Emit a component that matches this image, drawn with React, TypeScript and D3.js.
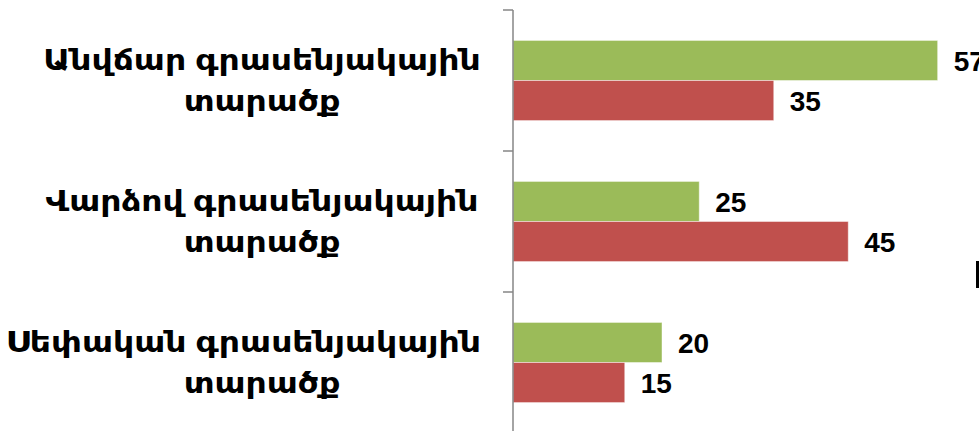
import React, { useEffect, useRef } from 'react'
import { select, scaleLinear, scaleBand } from 'd3'

// categories (top to bottom) and the two series
const categories = [
  'Անվճար գրասենյակային տարածք',
  'Վարձով գրասենյակային տարածք',
  'Սեփական գրասենյակային տարածք'
]
const seriesKeys = ['green', 'red']
const greenValues = [57, 25, 20]
const redValues = [35, 45, 15]
const colors = ['#9BBB59', '#C0504D']

const W = 979
const H = 431
const FONT = '"Liberation Sans", Arial, "DejaVu Sans", sans-serif'

const App = () => {
  const svgRef = useRef<SVGSVGElement>(null)

  useEffect(() => {
    const svg = select(svgRef.current)
    svg.selectAll('*').remove()

    const rows = categories.map((c, i) => ({ name: c, values: [greenValues[i], redValues[i]] }))

    // scales
    const axisX = 513
    const xScale = scaleLinear().domain([0, 60]).range([axisX, axisX + 447])
    const yScale = scaleBand().domain(categories).range([10, 433]).padding(0)
    const inner = scaleBand()
      .domain(seriesKeys)
      .range([0, yScale.bandwidth()])
      .paddingInner(0)
      .paddingOuter(0.76)

    // bars
    const groups = svg
      .selectAll('.cat')
      .data(rows)
      .join('g')
      .attr('class', 'cat')
      .attr('transform', d => `translate(0, ${yScale(d.name)})`)

    groups
      .selectAll('rect')
      .data(d => d.values.map((v, i) => ({ key: seriesKeys[i], v, i })))
      .join('rect')
      .attr('x', xScale(0))
      .attr('y', d => inner(d.key)!)
      .attr('width', d => xScale(d.v) - xScale(0))
      .attr('height', inner.bandwidth())
      .attr('fill', d => colors[d.i])
      .attr('stroke', '#ffffff')
      .attr('stroke-opacity', 0.45)
      .attr('stroke-width', 1)

    // value labels
    groups
      .selectAll('text.val')
      .data(d => d.values.map((v, i) => ({ key: seriesKeys[i], v })))
      .join('text')
      .attr('class', 'val')
      .attr('x', d => xScale(d.v) + 16)
      .attr('y', d => inner(d.key)! + inner.bandwidth() / 2)
      .attr('dy', '0.36em')
      .attr('font-family', FONT)
      .attr('font-weight', 'bold')
      .attr('font-size', 28)
      .attr('fill', '#000')
      .text(d => d.v)

    // vertical axis with ticks at band boundaries
    const axis = svg.append('g').attr('stroke', '#868686').attr('stroke-width', 1.5)
    axis.append('line')
      .attr('x1', axisX).attr('x2', axisX)
      .attr('y1', yScale.range()[0]).attr('y2', H)
    const boundaries = categories.map(c => yScale(c)!)
    axis.selectAll('line.tick')
      .data(boundaries)
      .join('line')
      .attr('class', 'tick')
      .attr('x1', axisX - 10).attr('x2', axisX)
      .attr('y1', d => d).attr('y2', d => d)

    // category labels, wrapped on the last space; the Armenian fallback
    // font is narrower than the original, so stretch it a bit
    const labelX = 262
    const maxRight = 481
    const lineH = 41
    const stretch = 1.16
    svg
      .selectAll('text.cat-label')
      .data(categories)
      .join('text')
      .attr('class', 'cat-label')
      .attr('x', labelX)
      .attr('text-anchor', 'middle')
      .attr('font-family', FONT)
      .attr('font-weight', 'bold')
      .attr('font-size', 28.5)
      .attr('fill', '#000')
      .attr('transform', `translate(${labelX},0) scale(${stretch},1) translate(${-labelX},0)`)
      .each(function (d) {
        const cut = d.lastIndexOf(' ')
        const lines = [d.slice(0, cut), d.slice(cut + 1)]
        const cy = yScale(d)! + yScale.bandwidth() / 2
        const t = select(this)
        lines.forEach((ln, i) => {
          const span = t.append('tspan')
            .attr('x', labelX)
            .attr('y', cy - lineH / 2 + i * lineH)
            .attr('dy', '0.36em')
            .text(ln)
          // keep the line clear of the axis
          const w = (span.node() as SVGTSpanElement).getComputedTextLength() * stretch
          if (labelX + w / 2 > maxRight) {
            const center = maxRight - w / 2
            span.attr('x', labelX + (center - labelX) / stretch)
          }
        })
      })

    // clipped legend edge at the right border
    svg.append('rect')
      .attr('x', 976).attr('y', 261)
      .attr('width', 4).attr('height', 27)
      .attr('fill', '#000')
  }, [])

  return (
    <div style={{ position: 'fixed', left: 0, top: 0, width: W, height: H, background: '#fff' }}>
      <svg ref={svgRef} width={W} height={H} style={{ display: 'block' }} />
    </div>
  )
}

export default App
